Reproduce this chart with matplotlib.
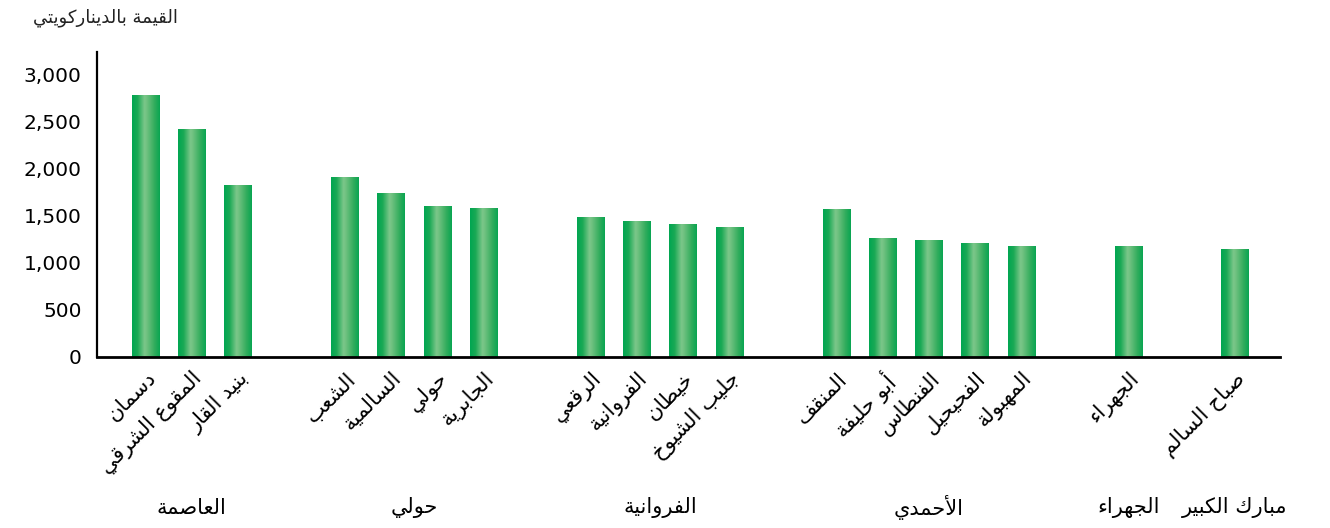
import numpy as np
import matplotlib
matplotlib.use("Agg")
import matplotlib.pyplot as plt
from matplotlib.colors import LinearSegmentedColormap
from matplotlib.transforms import blended_transform_factory

# governorates and their areas (logical Arabic text)
group_names = ["العاصمة", "حولي", "الفروانية", "الأحمدي", "الجهراء", "مبارك الكبير"]
group_sizes = [3, 4, 4, 5, 1, 1]
area_names = [
    "دسمان", "المقوع الشرقي", "بنيد القار",
    "الشعب", "السالمية", "حولي", "الجابرية",
    "الرقعي", "الفروانية", "خيطان", "جليب الشيوخ",
    "المنقف", "أبو حليفة", "الفنطاس", "الفحيحيل", "المهبولة",
    "الجهراء",
    "صباح السالم",
]
values = [2787, 2426, 1830,
          1915, 1745, 1606, 1585,
          1489, 1447, 1415, 1383,
          1574, 1266, 1245, 1213, 1181,
          1181,
          1149]
y_ticks = [0, 500, 1000, 1500, 2000, 2500, 3000]
y_title = "القيمة بالديناركويتي"

# --- minimal arabic shaping (matplotlib has no complex text layout) ---
DUAL = {0x0626: 0xFE89, 0x0628: 0xFE8F, 0x062A: 0xFE95, 0x062B: 0xFE99, 0x062C: 0xFE9D,
        0x062D: 0xFEA1, 0x062E: 0xFEA5, 0x0633: 0xFEB1, 0x0634: 0xFEB5, 0x0635: 0xFEB9,
        0x0636: 0xFEBD, 0x0637: 0xFEC1, 0x0638: 0xFEC5, 0x0639: 0xFEC9, 0x063A: 0xFECD,
        0x0641: 0xFED1, 0x0642: 0xFED5, 0x0643: 0xFED9, 0x0644: 0xFEDD, 0x0645: 0xFEE1,
        0x0646: 0xFEE5, 0x0647: 0xFEE9, 0x064A: 0xFEF1}
RIGHT = {0x0622: 0xFE81, 0x0623: 0xFE83, 0x0624: 0xFE85, 0x0625: 0xFE87, 0x0627: 0xFE8D,
         0x0629: 0xFE93, 0x062F: 0xFEA9, 0x0630: 0xFEAB, 0x0631: 0xFEAD, 0x0632: 0xFEAF,
         0x0648: 0xFEED, 0x0649: 0xFEEF}
LAMALEF = {0x0622: 0xFEF5, 0x0623: 0xFEF7, 0x0625: 0xFEF9, 0x0627: 0xFEFB}


def shape(s):
    cps = [ord(c) for c in s]
    out = []
    i = 0
    while i < len(cps):
        c = cps[i]
        prev = cps[i - 1] if i > 0 else None
        joins_prev = prev in DUAL and (c in DUAL or c in RIGHT)
        if c == 0x0644 and i + 1 < len(cps) and cps[i + 1] in LAMALEF:
            out.append(LAMALEF[cps[i + 1]] + (1 if joins_prev else 0))
            i += 2
            continue
        nxt = cps[i + 1] if i + 1 < len(cps) else None
        if c in DUAL:
            joins_next = nxt in DUAL or nxt in RIGHT
            base = DUAL[c]
            if joins_prev and joins_next:
                out.append(base + 3)
            elif joins_prev:
                out.append(base + 1)
            elif joins_next:
                out.append(base + 2)
            else:
                out.append(base)
        elif c in RIGHT:
            out.append(RIGHT[c] + (1 if joins_prev else 0))
        elif c == 0x0621:
            out.append(0xFE80)
        else:
            out.append(c)
        i += 1
    return "".join(chr(c) for c in out)[::-1]


plt.rcParams['font.family'] = ['DejaVu Sans']

# bar positions: unit spacing inside a governorate, wider gap between them
GROUP_GAP = 1.31
pos = []
x = 0.0
for n in group_sizes:
    for k in range(n):
        pos.append(x)
        x += 1
    x += GROUP_GAP
pos = np.array(pos)

fig = plt.figure(figsize=(13.3, 5.28), dpi=100)
ax = fig.add_axes([97 / 1330, 1 - 357 / 528, (1280 - 97) / 1330, (357 - 52) / 528])

BAR_W = 0.59
bars = ax.bar(pos, values, width=BAR_W, facecolor='none', edgecolor='none')

cmap = LinearSegmentedColormap.from_list("bar", [
    (0.0, "#00a651"), (0.2, "#1aa955"), (0.45, "#7cc78a"),
    (0.55, "#6cc07e"), (0.8, "#33ad5d"), (1.0, "#08a552")])
grad = np.linspace(0, 1, 256).reshape(1, -1)
for r in bars:
    x0 = r.get_x()
    im = ax.imshow(grad, extent=[x0, x0 + r.get_width(), 0, r.get_height()],
                   cmap=cmap, aspect='auto', interpolation='bilinear', zorder=2)
    im.set_clip_path(r)

ax.set_xlim(pos[0] - 1.045, pos[-1] + 0.97)
ax.set_ylim(0, 3240)

for s in ['top', 'right']:
    ax.spines[s].set_visible(False)
ax.spines['left'].set_linewidth(1.6)
ax.spines['bottom'].set_linewidth(2.0)
ax.spines['left'].set_zorder(3)

ax.set_yticks(y_ticks)
ax.set_yticklabels([f"{v:,}" for v in y_ticks], fontsize=14.5)
ax.tick_params(axis='y', length=0, pad=11)

ax.set_xticks(pos)
ax.set_xticklabels([shape(a) for a in area_names], rotation=45, ha='right',
                   va='top', rotation_mode='anchor', fontsize=15)
ax.tick_params(axis='x', length=0, pad=8)

trans = blended_transform_factory(ax.transData, fig.transFigure)
start = 0
for name, n in zip(group_names, group_sizes):
    c = pos[start:start + n].mean()
    ax.text(c, 1 - 508 / 528, shape(name), transform=trans, ha='center',
            va='center', fontsize=15)
    start += n

fig.text(178 / 1330, 1 - 18 / 528, shape(y_title), ha='right', va='center',
         fontsize=13, color='#222222')

fig.savefig("out.png", dpi=100)
